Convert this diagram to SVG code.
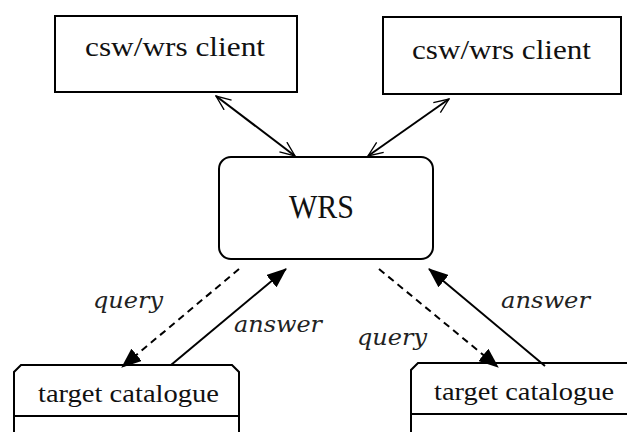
<svg xmlns="http://www.w3.org/2000/svg" width="627" height="432" viewBox="0 0 627 432">
<style>
.box{fill:#fff;stroke:#000;stroke-width:2}
.lbl{fill:#111}
.it{font-style:italic;fill:#222}
.solid{stroke:#000;stroke-width:2;fill:none}
.dash{stroke:#000;stroke-width:2;fill:none;stroke-dasharray:7,5}
</style>
<defs>
<marker id="open" viewBox="0 0 20 16" refX="19" refY="8" markerWidth="18" markerHeight="14" markerUnits="userSpaceOnUse" orient="auto-start-reverse">
<path d="M2,1 L19,8 L2,15" fill="none" stroke="#000" stroke-width="1.5"/>
</marker>
<marker id="solidh" viewBox="0 0 20 16" refX="19" refY="8" markerWidth="20" markerHeight="16" markerUnits="userSpaceOnUse" orient="auto">
<path d="M0,0 L20,8 L0,16 Z" fill="#000"/>
</marker>
</defs>
<g id="client1">
<rect class="box" x="55" y="16" width="242" height="76"/>
<text class="lbl" font-family="'Liberation Serif', serif" x="85" y="56" font-size="27" textLength="180" lengthAdjust="spacingAndGlyphs">csw/wrs client</text>
</g>
<g id="client2">
<rect class="box" x="383" y="17" width="238" height="77"/>
<text class="lbl" font-family="'Liberation Serif', serif" x="412" y="59" font-size="27" textLength="179" lengthAdjust="spacingAndGlyphs">csw/wrs client</text>
</g>
<g id="wrs">
<rect class="box" x="219" y="157" width="214" height="102" rx="12" ry="12"/>
<text class="lbl" font-family="'Liberation Serif', serif" x="289" y="218" font-size="33" textLength="65" lengthAdjust="spacingAndGlyphs">WRS</text>
</g>
<g id="target1">
<path class="box" d="M14,450 L14,372 L21,365 L232,365 L239,372 L239,450"/>
<line class="solid" x1="14" y1="416" x2="239" y2="416"/>
<text class="lbl" font-family="'Liberation Serif', serif" x="38" y="402" font-size="25" textLength="181" lengthAdjust="spacingAndGlyphs">target catalogue</text>
</g>
<g id="target2">
<path class="box" d="M411,450 L411,370 L418,363 L640,363"/>
<line class="solid" x1="411" y1="414" x2="640" y2="414"/>
<text class="lbl" font-family="'Liberation Serif', serif" x="434" y="400" font-size="25" textLength="180" lengthAdjust="spacingAndGlyphs">target catalogue</text>
</g>
<g id="connectors">
<line class="solid" x1="216" y1="96" x2="295" y2="156" marker-start="url(#open)" marker-end="url(#open)"/>
<line class="solid" x1="449" y1="99" x2="368" y2="156" marker-start="url(#open)" marker-end="url(#open)"/>
<line class="dash" x1="239" y1="269" x2="122" y2="367" marker-end="url(#solidh)"/>
<line class="solid" x1="171" y1="365" x2="286" y2="269" marker-end="url(#solidh)"/>
<line class="dash" x1="379" y1="269" x2="498" y2="367" marker-end="url(#solidh)"/>
<line class="solid" x1="545" y1="366" x2="429" y2="269" marker-end="url(#solidh)"/>
<text class="it" font-family="'DejaVu Serif', serif" x="93" y="308" font-size="23" textLength="70" lengthAdjust="spacingAndGlyphs">query</text>
<text class="it" font-family="'DejaVu Serif', serif" x="234" y="332" font-size="23" textLength="88" lengthAdjust="spacingAndGlyphs">answer</text>
<text class="it" font-family="'DejaVu Serif', serif" x="357" y="345" font-size="23" textLength="70" lengthAdjust="spacingAndGlyphs">query</text>
<text class="it" font-family="'DejaVu Serif', serif" x="501" y="308" font-size="23" textLength="89" lengthAdjust="spacingAndGlyphs">answer</text>
</g>
</svg>
